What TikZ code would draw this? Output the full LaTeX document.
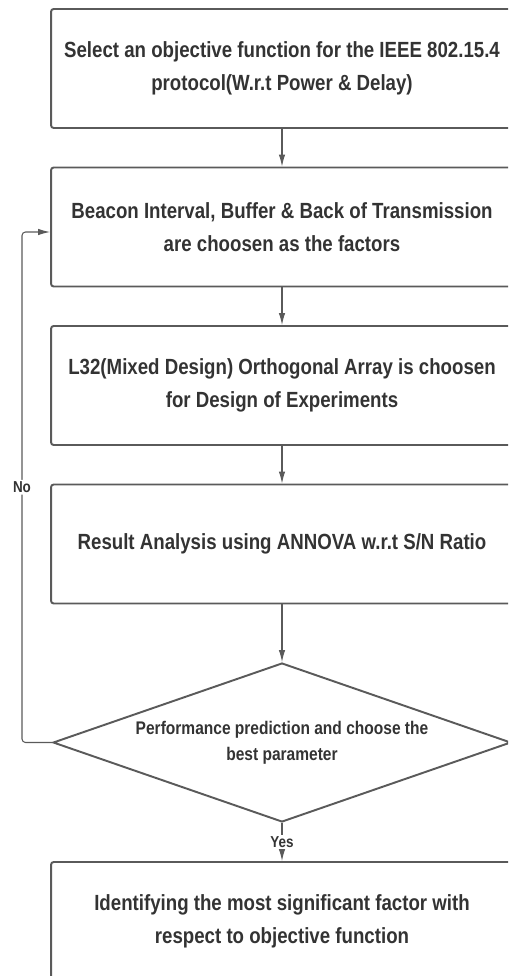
\documentclass[tikz,border=0pt]{standalone}
\usepackage{fontspec}
\setmainfont[FakeStretch=0.85]{Liberation Sans}
\usetikzlibrary{shapes.geometric,arrows.meta}
\definecolor{linegray}{HTML}{5A5A5A}
\definecolor{textgray}{HTML}{333333}
\begin{document}
\begin{tikzpicture}[x=0.02cm,y=-0.02cm,>={Latex[length=2.4mm,width=1.3mm]},
    box/.style={draw=linegray,line width=1.1pt,rounded corners=1.5pt,minimum width=9.24cm,minimum height=2.38cm,inner sep=0,align=center,text=textgray,font=\fontsize{12.5}{18.5}\selectfont\bfseries},
    decision/.style={draw=linegray,line width=1.1pt,diamond,shape aspect=2.88,minimum width=9.16cm,minimum height=3.18cm,inner sep=0,align=center,text=textgray,font=\fontsize{10.4}{15}\selectfont\bfseries},
    flow/.style={draw=linegray,line width=0.6pt,->},
    answer/.style={fill=white,inner sep=1pt,text=textgray,font=\fontsize{9}{10}\selectfont\bfseries}]
    \clip (0,0) rectangle (508,976);
    \path (282,68.5) node [box](objective){Select an objective function for the IEEE 802.15.4\\protocol(W.r.t Power \& Delay)};
    \path (282,227) node [box](factors){Beacon Interval, Buffer \& Back of Transmission\\are choosen as the factors};
    \path (282,385.5) node [box](array){L32(Mixed Design) Orthogonal Array is choosen\\for Design of Experiments};
    \path (282,544) node [box](anova){Result Analysis using ANNOVA w.r.t S/N Ratio};
    \path (282,742.5) node [decision](predict){Performance prediction and choose the\\best parameter};
    \path (282,921.5) node [box](significant){Identifying the most significant factor with\\respect to objective function};
    \coordinate (loopbottom) at (22,742.5);
    \coordinate (looptop) at (22,232);
    \draw[flow] (objective) -- (factors);
    \draw[flow] (factors) -- (array);
    \draw[flow] (array) -- (anova);
    \draw[flow] (anova) -- (predict);
    \draw[flow] (predict) -- node[answer]{Yes} (significant);
    \draw[flow,rounded corners=2pt] (predict.west) -- (loopbottom) -- node[answer]{No} (looptop) -- (looptop -| factors.west);
  \end{tikzpicture}
\end{document}
